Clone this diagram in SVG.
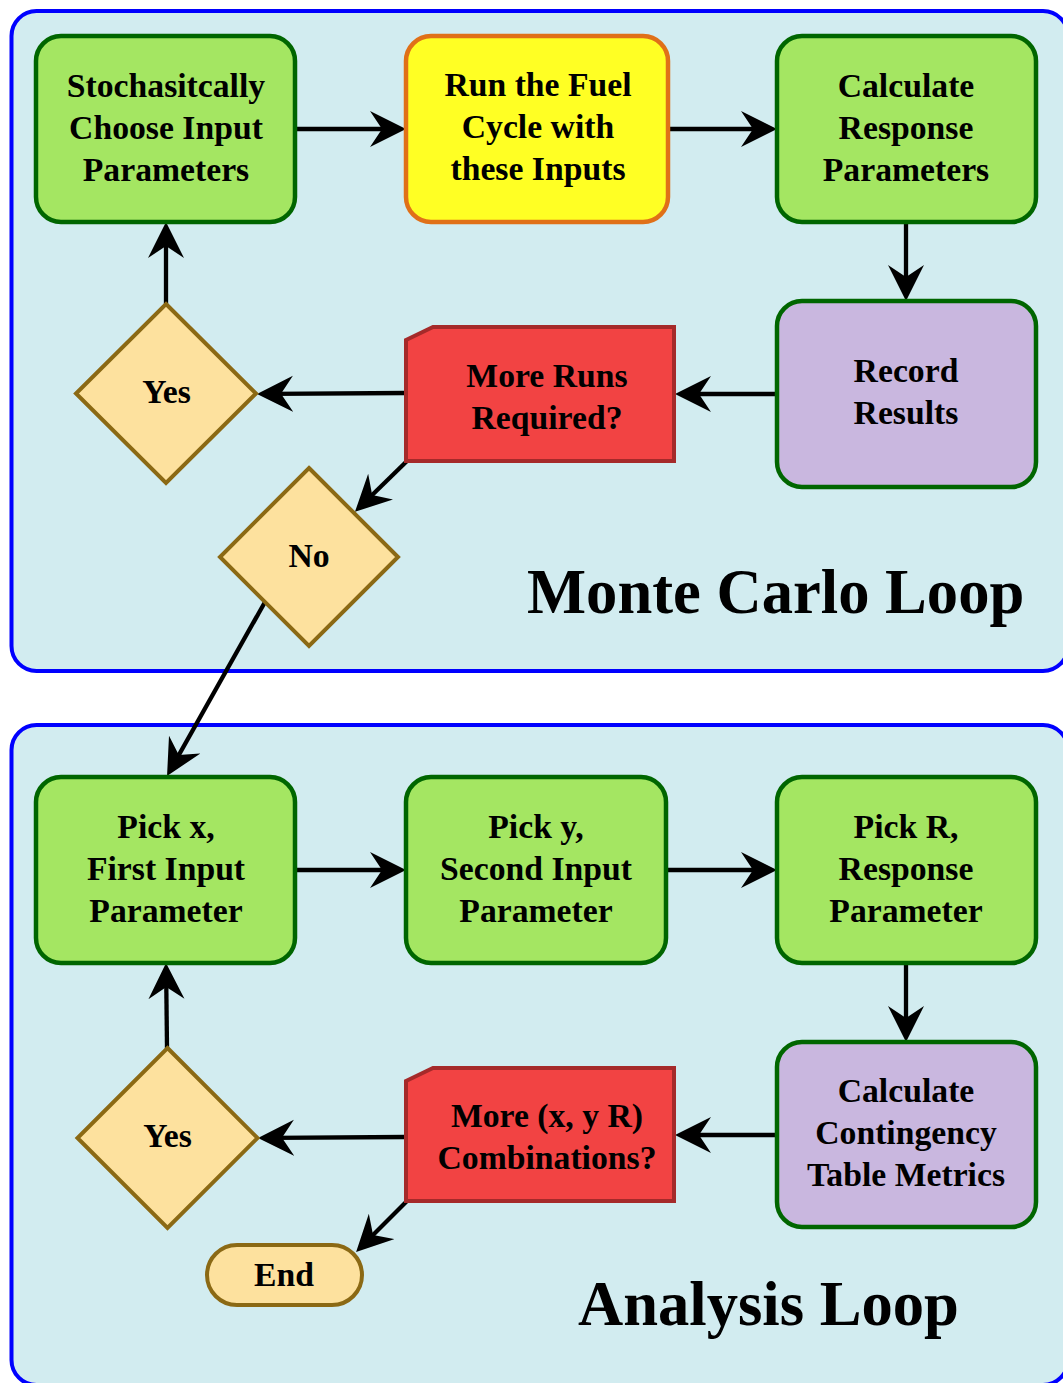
<svg xmlns="http://www.w3.org/2000/svg" width="1063" height="1383" viewBox="0 0 1063 1383">
<style>
.panel{fill:#d2ecf0;stroke:#0000ff;stroke-width:4}
.green{fill:#a4e662;stroke:#006600;stroke-width:4.5}
.yellow{fill:#ffff24;stroke:#e07018;stroke-width:4.5}
.lav{fill:#c9b7df;stroke:#006600;stroke-width:4.5}
.red{fill:#f24343;stroke:#a52a2a;stroke-width:4}
.dia{fill:#fde19e;stroke:#8b6914;stroke-width:4}
.t{font-family:"Liberation Serif","Times New Roman",serif;font-weight:bold;font-size:33.7px;fill:#000;text-anchor:middle}
.big{font-family:"Liberation Serif","Times New Roman",serif;font-weight:bold;font-size:62.6px;fill:#000}
.c{stroke:#000;stroke-width:4.3;fill:none;marker-end:url(#ah)}
</style>
<defs>
<marker id="ah" markerUnits="userSpaceOnUse" markerWidth="40" markerHeight="40" refX="22" refY="18" orient="auto">
<path d="M0,0 L36,18 L0,36 L12,18 Z" fill="#000"/>
</marker>
</defs>
<g id="panels">
<rect class="panel" x="11.5" y="11" width="1056.5" height="660" rx="25"/>
<rect class="panel" x="11.5" y="725" width="1056.5" height="660" rx="25"/>
<text class="big" x="527" y="613">Monte Carlo Loop</text>
<text class="big" x="578" y="1325">Analysis Loop</text>
</g>
<g id="connectors">
<line class="c" x1="296" y1="129" x2="392" y2="129"/>
<line class="c" x1="668" y1="129" x2="763" y2="129"/>
<line class="c" x1="906" y1="222" x2="906" y2="287"/>
<line class="c" x1="777" y1="394" x2="689" y2="394"/>
<line class="c" x1="406" y1="393" x2="271" y2="393.9"/>
<line class="c" x1="166" y1="304" x2="166" y2="236"/>
<line class="c" x1="407" y1="461" x2="365" y2="502"/>
<line class="c" x1="265" y1="602" x2="173.9" y2="763.8"/>
<line class="c" x1="295" y1="870" x2="392" y2="870"/>
<line class="c" x1="666" y1="870" x2="763" y2="870"/>
<line class="c" x1="906" y1="963" x2="906" y2="1028"/>
<line class="c" x1="777" y1="1135" x2="689" y2="1135"/>
<line class="c" x1="406" y1="1137" x2="272" y2="1137.9"/>
<line class="c" x1="167" y1="1048" x2="166.2" y2="977"/>
<line class="c" x1="407" y1="1201" x2="366" y2="1242"/>
</g>
<g id="n-stoch">
<rect class="green" x="36" y="36" width="259" height="186" rx="25"/>
<text class="t" x="166" y="97"><tspan x="166">Stochasitcally</tspan><tspan x="166" dy="42">Choose Input</tspan><tspan x="166" dy="42">Parameters</tspan></text>
</g>
<g id="n-run">
<rect class="yellow" x="406" y="36" width="262" height="186" rx="25"/>
<text class="t" x="538" y="96"><tspan x="538">Run the Fuel</tspan><tspan x="538" dy="42">Cycle with</tspan><tspan x="538" dy="42">these Inputs</tspan></text>
</g>
<g id="n-calcresp">
<rect class="green" x="777" y="36" width="259" height="186" rx="25"/>
<text class="t" x="906" y="97"><tspan x="906">Calculate</tspan><tspan x="906" dy="42">Response</tspan><tspan x="906" dy="42">Parameters</tspan></text>
</g>
<g id="n-record">
<rect class="lav" x="777" y="301" width="259" height="186" rx="25"/>
<text class="t" x="906" y="382"><tspan x="906">Record</tspan><tspan x="906" dy="42">Results</tspan></text>
</g>
<g id="n-moreruns">
<path class="red" d="M406,340 L433,327 L674,327 L674,461 L406,461 Z"/>
<text class="t" x="547" y="387"><tspan x="547">More Runs</tspan><tspan x="547" dy="42">Required?</tspan></text>
</g>
<g id="n-yes1">
<path class="dia" d="M166,304 L256,393.5 L166,483 L76,393.5 Z"/>
<text class="t" x="166.5" y="403">Yes</text>
</g>
<g id="n-no">
<path class="dia" d="M309,468 L398,557 L309,646 L220,557 Z"/>
<text class="t" x="309" y="567">No</text>
</g>
<g id="n-pickx">
<rect class="green" x="36" y="777" width="259" height="186" rx="25"/>
<text class="t" x="166" y="838"><tspan x="166">Pick x,</tspan><tspan x="166" dy="42">First Input</tspan><tspan x="166" dy="42">Parameter</tspan></text>
</g>
<g id="n-picky">
<rect class="green" x="406" y="777" width="260" height="186" rx="25"/>
<text class="t" x="536" y="838"><tspan x="536">Pick y,</tspan><tspan x="536" dy="42">Second Input</tspan><tspan x="536" dy="42">Parameter</tspan></text>
</g>
<g id="n-pickr">
<rect class="green" x="777" y="777" width="259" height="186" rx="25"/>
<text class="t" x="906" y="838"><tspan x="906">Pick R,</tspan><tspan x="906" dy="42">Response</tspan><tspan x="906" dy="42">Parameter</tspan></text>
</g>
<g id="n-contingency">
<rect class="lav" x="777" y="1042" width="259" height="185" rx="25"/>
<text class="t" x="906" y="1102"><tspan x="906">Calculate</tspan><tspan x="906" dy="42">Contingency</tspan><tspan x="906" dy="42">Table Metrics</tspan></text>
</g>
<g id="n-morecomb">
<path class="red" d="M406,1081 L433,1068 L674,1068 L674,1201 L406,1201 Z"/>
<text class="t" x="547" y="1127"><tspan x="547">More (x, y R)</tspan><tspan x="547" dy="42">Combinations?</tspan></text>
</g>
<g id="n-yes2">
<path class="dia" d="M167.5,1048 L257.5,1138 L167.5,1228 L77.5,1138 Z"/>
<text class="t" x="167.5" y="1147">Yes</text>
</g>
<g id="n-end">
<rect class="dia" x="207" y="1245" width="155" height="60" rx="30"/>
<text class="t" x="284" y="1286">End</text>
</g>
</svg>
